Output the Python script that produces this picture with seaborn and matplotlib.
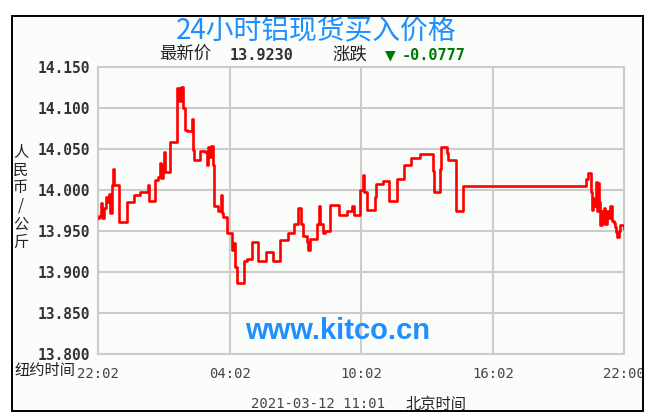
import matplotlib
matplotlib.use("Agg")
import matplotlib.pyplot as plt
from matplotlib.patches import Rectangle
import seaborn as sns
import pandas as pd

# ---------------- data ----------------
title = "24小时铝现货买入价格"
latest_label = "最新价"
latest_value = "13.9230"
change_label = "涨跌"
change_value = "-0.0777"
y_label = "人民币/公斤"
x_axis_note = "纽约时间"
timestamp = "2021-03-12 11:01"
timezone_note = "北京时间"
watermark = "www.kitco.cn"

x_tick_hours = [0, 6, 12, 18, 23.967]
x_tick_labels = ["22:02", "04:02", "10:02", "16:02", "22:00"]
y_ticks = [13.80, 13.85, 13.90, 13.95, 14.00, 14.05, 14.10, 14.15]

# hours after 22:02 (New York time) and price (CNY / kg)
hours = [0.00, 0.06, 0.14, 0.18, 0.27, 0.36, 0.43, 0.49, 0.55, 0.62,
         0.70, 0.73, 0.94, 1.30, 1.66, 1.92, 2.27, 2.31, 2.60, 2.75,
         2.83, 2.87, 2.95, 3.01, 3.07, 3.28, 3.62, 3.71, 3.77, 3.86,
         3.97, 4.06, 4.27, 4.32, 4.38, 4.56, 4.65, 4.88, 4.96, 5.03,
         5.11, 5.15, 5.23, 5.30, 5.47, 5.60, 5.64, 5.71, 5.90, 6.10,
         6.16, 6.25, 6.32, 6.63, 6.78, 7.01, 7.28, 7.66, 7.97, 8.30,
         8.68, 8.94, 9.13, 9.24, 9.33, 9.52, 9.59, 9.67, 9.97, 10.09,
         10.12, 10.27, 10.35, 10.58, 10.96, 11.34, 11.57, 11.65, 11.87, 11.95,
         12.07, 12.10, 12.25, 12.60, 12.68, 12.98, 13.28, 13.62, 13.92, 14.27,
         14.65, 15.26, 15.32, 15.60, 15.64, 15.90, 15.97, 16.31, 16.61, 22.25,
         22.31, 22.47, 22.50, 22.55, 22.62, 22.69, 22.74, 22.78, 22.84, 22.89,
         22.95, 23.01, 23.07, 23.12, 23.20, 23.27, 23.35, 23.40, 23.50, 23.54,
         23.60, 23.66, 23.72, 23.80, 23.95]
prices = [13.966, 13.968, 13.984, 13.966, 13.978, 13.992, 13.985, 13.995, 13.972, 14.006,
          14.026, 14.006, 13.961, 13.985, 13.994, 13.998, 14.006, 13.987, 14.012, 14.016,
          14.033, 14.015, 14.030, 14.046, 14.022, 14.059, 14.124, 14.108, 14.126, 14.100,
          14.073, 14.072, 14.086, 14.049, 14.037, 14.037, 14.048, 14.046, 14.031, 14.052,
          14.040, 14.054, 14.031, 13.980, 13.975, 13.994, 13.972, 13.967, 13.947, 13.927,
          13.935, 13.906, 13.886, 13.913, 13.916, 13.937, 13.913, 13.925, 13.913, 13.939,
          13.947, 13.959, 13.978, 13.959, 13.944, 13.937, 13.927, 13.940, 13.959, 13.981,
          13.959, 13.947, 13.950, 13.982, 13.969, 13.975, 13.981, 13.969, 13.970, 14.000,
          14.018, 13.998, 13.976, 13.992, 14.007, 14.011, 13.987, 14.014, 14.030, 14.039,
          14.044, 14.023, 13.997, 14.026, 14.052, 14.045, 14.037, 13.974, 14.005, 14.014,
          14.021, 13.998, 13.976, 13.990, 13.980, 14.010, 13.975, 14.008, 13.985, 13.957,
          13.975, 13.960, 13.978, 13.958, 13.975, 13.966, 13.980, 13.962, 13.960, 13.955,
          13.949, 13.943, 13.950, 13.957, 13.953]

df = pd.DataFrame({"hours": hours, "price": prices})

# ---------------- figure ----------------
sns.set_theme(style="white")
CJK = ["Noto Sans CJK SC", "DejaVu Sans"]
MONO = ["DejaVu Sans Mono", "DejaVu Sans"]
plt.rcParams["font.family"] = CJK

W, H = 652, 420
fig = plt.figure(figsize=(W / 100, H / 100), dpi=100)
fig.patch.set_facecolor("white")


def fx(x):
    return x / W


def fy(y):
    return 1 - y / H


# framed panel background
fig.patches.append(Rectangle((fx(12), fy(411)), fx(643) - fx(12), fy(16) - fy(411),
                             transform=fig.transFigure, facecolor="#fbfdfb",
                             edgecolor="none", zorder=-5))
fig.patches.append(Rectangle((fx(643.5), 0), 1 - fx(643.5), 1, transform=fig.transFigure,
                             facecolor="white", edgecolor="none", zorder=4))
fig.patches.append(Rectangle((fx(12), fy(411)), fx(643) - fx(12), fy(16) - fy(411),
                             transform=fig.transFigure, facecolor="none",
                             edgecolor="black", linewidth=1.4, zorder=5))

ax = fig.add_axes([fx(98), fy(354), fx(624) - fx(98), fy(67) - fy(354)])
ax.set_facecolor("none")

sns.lineplot(data=df, x="hours", y="price", ax=ax, color="#ff0000", linewidth=1.9,
             drawstyle="steps-post", estimator=None, sort=False, zorder=3)

ax.set_xlim(0, 23.967)
ax.set_ylim(13.80, 14.15)
ax.set_xticks(x_tick_hours)
ax.set_xticklabels(x_tick_labels, family=MONO, fontsize=10, color="#444444")
ax.set_yticks(y_ticks)
ax.set_yticklabels([f"{v:.3f}" for v in y_ticks], family=MONO, fontsize=10.5,
                   fontweight="bold", color="#333333")
ax.tick_params(axis="both", length=0)
ax.tick_params(axis="y", pad=6)
ax.tick_params(axis="x", pad=9)
ax.set_xlabel("")
ax.set_ylabel("")
ax.grid(True, color="#cccccc", linewidth=1.5)
for s in ax.spines.values():
    s.set_color("#cccccc")
    s.set_linewidth(1.5)
    s.set_visible(True)
ax.set_axisbelow(True)

# watermark
ax.text(0.455, 0.03, watermark, transform=ax.transAxes, ha="center", va="bottom",
        family=["Liberation Sans", "DejaVu Sans"], fontweight="bold", fontsize=21,
        color="#1e8fff", zorder=2)

# title and header
fig.text(fx(316), fy(31), title, ha="center", va="center", fontsize=20, color="#1e8fff",
         family=CJK)
fig.text(fx(185), fy(55), latest_label, ha="center", va="center", fontsize=12.5,
         color="#222222", family=CJK)
fig.text(fx(230), fy(55), latest_value, ha="left", va="center", fontsize=11,
         fontweight="bold", color="#333333", family=MONO)
fig.text(fx(350), fy(55), change_label, ha="center", va="center", fontsize=12.5,
         color="#222222", family=CJK)
fig.text(fx(390), fy(55), "▼", ha="center", va="center", fontsize=10,
         color="#007700", family=["DejaVu Sans"])
fig.text(fx(402), fy(55), change_value, ha="left", va="center", fontsize=11,
         fontweight="bold", color="#007700", family=MONO)

# vertical y label
fig.text(fx(21), fy(197), "\n".join(y_label), ha="center", va="center", fontsize=11,
         color="#222222", family=CJK, linespacing=1.08)

# bottom notes
fig.text(fx(14), fy(371), x_axis_note, ha="left", va="center", fontsize=11,
         color="#222222", family=CJK)
fig.text(fx(318), fy(404), timestamp, ha="center", va="center", fontsize=10,
         color="#444444", family=MONO)
fig.text(fx(436), fy(404), timezone_note, ha="center", va="center", fontsize=11,
         color="#222222", family=CJK)

fig.savefig("out.png", dpi=100)
